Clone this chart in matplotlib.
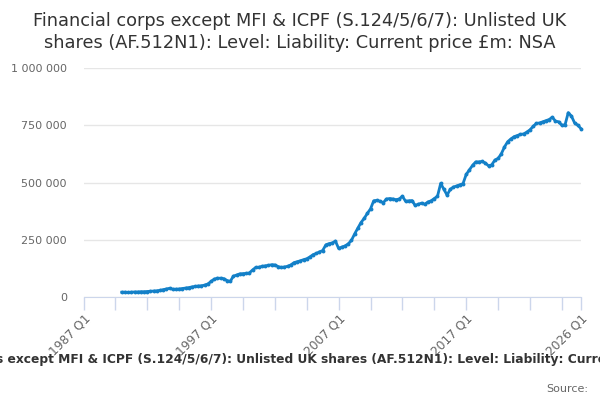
import matplotlib
matplotlib.use("Agg")
import matplotlib.pyplot as plt

# Quarterly values (£m, thousands), 1990 Q1 .. 2026 Q1
start_year = 1990
values_k = [
    21, 21, 20, 21, 22, 22, 23, 23, 24, 25, 26, 27, 29, 32, 35, 38,
    34, 34, 35, 37, 39, 41, 44, 46, 48, 49, 52, 57, 68, 78, 82, 82,
    80, 72, 68, 91, 96, 101, 102, 103, 105, 118, 129, 130, 134, 136, 138, 141,
    140, 133, 129, 131, 134, 140, 150, 154, 158, 163, 167, 175, 185, 190, 197, 203,
    228, 233, 236, 244, 212, 218, 223, 232, 247, 275, 300, 325, 343, 365, 385, 420,
    422, 418, 412, 428, 430, 428, 425, 428, 440, 418, 420, 421, 400, 405, 410, 405,
    415, 420, 430, 440, 496, 470, 445, 470, 480, 485, 490, 495, 535, 555, 575, 590,
    590, 592, 585, 573, 577, 598, 605, 625, 655, 678, 690, 700, 705, 710, 712, 720,
    730, 745, 758, 760, 765, 770, 775, 785, 768, 765, 750, 752, 805, 790, 760, 750,
    735,
]
values = [v * 1000 for v in values_k]

axis_start_year = 1987
axis_end_label = "2026 Q1"
y_ticks = [0, 250000, 500000, 750000, 1000000]
y_tick_labels = ["0", "250 000", "500 000", "750 000", "1 000 000"]

title = "Financial corps except MFI & ICPF (S.124/5/6/7): Unlisted UK shares (AF.512N1): Level: Liability: Current price £m: NSA"
title_lines = "Financial corps except MFI & ICPF (S.124/5/6/7): Unlisted UK\nshares (AF.512N1): Level: Liability: Current price £m: NSA"

offset = (start_year - axis_start_year) * 4
xq = [offset + i for i in range(len(values))]
n_end = 156

fig = plt.figure(figsize=(6, 4), dpi=100)
ax = fig.add_axes([83.5 / 600, 1 - 297 / 400, (581 - 83.5) / 600, (297 - 68) / 400])

ax.plot(xq, values, color="#1380c8", lw=2.0, marker="o", ms=2.8,
        markeredgewidth=0, zorder=3, clip_on=False)

ax.set_xlim(0, n_end)
ax.set_ylim(0, 1000000)
ax.set_yticks(y_ticks)
ax.set_yticklabels(y_tick_labels, color="#666666", fontsize=8)
ax.tick_params(axis="y", length=0, pad=12)
ax.grid(axis="y", color="#e6e6e6", lw=1)
ax.set_axisbelow(True)

major = list(range(0, n_end, 10)) + [n_end]
ax.set_xticks(major)
labels = []
for t in major:
    if t == n_end:
        labels.append(axis_end_label)
    elif t % 40 == 0:
        labels.append(f"{axis_start_year + t // 4} Q1")
    else:
        labels.append("")
ax.set_xticklabels(labels, rotation=45, ha="right", rotation_mode="anchor",
                   color="#666666", fontsize=8.8)
ax.tick_params(axis="x", length=9, color="#ccd6eb", width=1, pad=2)

for s in ["top", "right", "left"]:
    ax.spines[s].set_visible(False)
ax.spines["bottom"].set_color("#ccd6eb")

fig.text(0.5, 1 - 32 / 400, title_lines, ha="center", va="center",
         fontsize=12.8, color="#333333", linespacing=1.3)
fig.text(311 / 600, 1 - 360 / 400, title, ha="center", va="center",
         fontsize=8.85, fontweight="bold", color="#333333")
fig.text(588 / 600, 1 - 389 / 400, "Source:", ha="right", va="center",
         fontsize=8, color="#666666")

fig.savefig("out.png", dpi=100)
